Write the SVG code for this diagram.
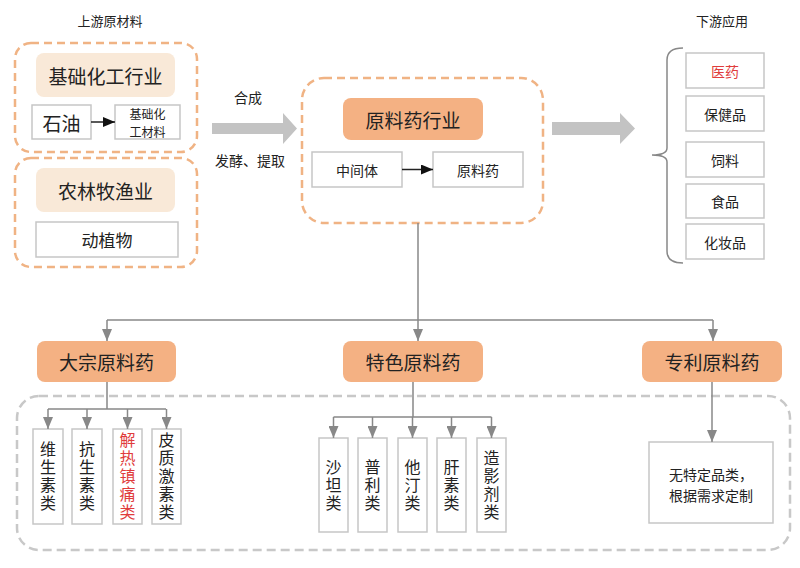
<svg xmlns="http://www.w3.org/2000/svg" width="800" height="568" viewBox="0 0 800 568">
<style>
text{font-family:"Noto Sans CJK SC","Liberation Sans",sans-serif;fill:#222;text-anchor:middle;dominant-baseline:central}
.v{writing-mode:vertical-rl;font-size:16px;letter-spacing:2px}
.od{fill:none;stroke:#f0b384;stroke-width:2.5;stroke-dasharray:8 5}
.gd{fill:none;stroke:#c8c8c8;stroke-width:2.5;stroke-dasharray:9 5}
.lh{fill:#f9e9d8;stroke:none}
.oh{fill:#f4b183;stroke:none}
.bx{fill:#fff;stroke:#c6c6c6;stroke-width:1.5}
.ln{fill:none;stroke:#888;stroke-width:1.5}
.bk{fill:none;stroke:#222;stroke-width:1.5}
.big{font-size:19px}
.md{font-size:17px}
.sm{font-size:14px}
.xs{font-size:13px}
.xxs{font-size:12px}
.red{fill:#e03c3c}
</style>
<defs>
<marker id="ga" viewBox="0 0 12 10" refX="12" refY="5" markerWidth="12" markerHeight="10" markerUnits="userSpaceOnUse" orient="auto"><path d="M0,0L12,5L0,10Z" fill="#888"/></marker>
<marker id="ba" viewBox="0 0 12 10" refX="12" refY="5" markerWidth="12" markerHeight="10" markerUnits="userSpaceOnUse" orient="auto"><path d="M0,0L12,5L0,10Z" fill="#111"/></marker>
</defs>

<text class="xs" x="110" y="20">上游原材料</text>
<text class="xs" x="722" y="20">下游应用</text>

<g id="upstream-chem">
<rect class="od" x="15" y="43" width="182" height="109" rx="16"/>
<rect class="lh" x="36" y="53" width="139" height="44" rx="8"/>
<text class="big" x="105.5" y="75">基础化工行业</text>
<rect class="bx" x="32" y="105" width="59" height="34"/>
<text class="big" x="61.5" y="122">石油</text>
<rect class="bx" x="115" y="105" width="65" height="34"/>
<text class="xxs"><tspan x="147.5" y="113">基础化</tspan><tspan x="147.5" y="131">工材料</tspan></text>
</g>

<g id="upstream-agri">
<rect class="od" x="15" y="158" width="182" height="109" rx="16"/>
<rect class="lh" x="36" y="168" width="139" height="44" rx="8"/>
<text class="big" x="105.5" y="190">农林牧渔业</text>
<rect class="bx" x="36" y="222" width="142" height="35"/>
<text class="md" x="107" y="239.5">动植物</text>
</g>

<g id="api-industry">
<rect class="od" x="302" y="78" width="241" height="145" rx="22"/>
<rect class="oh" x="343" y="98" width="140" height="42" rx="8"/>
<text class="big" x="413" y="119">原料药行业</text>
<rect class="bx" x="312" y="152" width="90" height="35"/>
<text class="sm" x="357" y="169.5">中间体</text>
<rect class="bx" x="433" y="152" width="90" height="35"/>
<text class="sm" x="478" y="169.5">原料药</text>
</g>

<g id="flow-labels">
<text class="sm" x="248" y="97">合成</text>
<text class="sm" x="250" y="160">发酵、提取</text>
</g>

<g id="downstream">
<path class="ln" d="M683,48 Q667,48 667,60 L667,148 Q667,155 652,155 Q667,155 667,162 L667,251 Q667,263 683,263" stroke="#666"/>
<rect class="bx" x="686" y="53" width="78" height="35"/>
<text class="sm red" x="725" y="70.5">医药</text>
<rect class="bx" x="686" y="96" width="78" height="35"/>
<text class="sm" x="725" y="113.5">保健品</text>
<rect class="bx" x="686" y="142" width="78" height="35"/>
<text class="sm" x="725" y="159.5">饲料</text>
<rect class="bx" x="686" y="184" width="78" height="34"/>
<text class="sm" x="725" y="201">食品</text>
<rect class="bx" x="686" y="224" width="78" height="35"/>
<text class="sm" x="725" y="241.5">化妆品</text>
</g>

<g id="bulk-api">
<rect class="oh" x="37" y="341" width="139" height="41" rx="8"/>
<text class="big" x="106.5" y="361.5">大宗原料药</text>
</g>
<g id="special-api">
<rect class="oh" x="343" y="341" width="140" height="41" rx="8"/>
<text class="big" x="413" y="361.5">特色原料药</text>
</g>
<g id="patent-api">
<rect class="oh" x="642" y="341" width="140" height="41" rx="8"/>
<text class="big" x="712" y="361.5">专利原料药</text>
</g>

<g id="bottom-frame">
<rect class="gd" x="17" y="396" width="773" height="154" rx="22"/>
</g>

<g id="bulk-items">
<rect class="bx" x="33" y="429" width="30" height="95"/>
<text class="v" x="48" y="477">维生素类</text>
<rect class="bx" x="72" y="429" width="30" height="95"/>
<text class="v" x="87" y="477">抗生素类</text>
<rect class="bx" x="113" y="429" width="29" height="95"/>
<text class="v red" x="127.5" y="477">解热镇痛类</text>
<rect class="bx" x="152" y="429" width="29" height="95"/>
<text class="v" x="166.5" y="477">皮质激素类</text>
</g>

<g id="special-items">
<rect class="bx" x="319" y="438" width="29" height="94"/>
<text class="v" x="333.5" y="486">沙坦类</text>
<rect class="bx" x="358" y="438" width="29" height="94"/>
<text class="v" x="372.5" y="486">普利类</text>
<rect class="bx" x="398" y="438" width="29" height="94"/>
<text class="v" x="412.5" y="486">他汀类</text>
<rect class="bx" x="437" y="438" width="29" height="94"/>
<text class="v" x="451.5" y="486">肝素类</text>
<rect class="bx" x="477" y="438" width="29" height="94"/>
<text class="v" x="491.5" y="486">造影剂类</text>
</g>

<g id="patent-item">
<rect class="bx" x="649" y="442" width="124" height="81"/>
<text class="sm"><tspan x="711" y="474">无特定品类，</tspan><tspan x="711" y="495">根据需求定制</tspan></text>
</g>

<g id="connectors">
<path d="M212,123H283V113L297,128.5L283,144V134H212Z" fill="#c3c3c3"/>
<path d="M552,122H620V113L635,128.5L620,144V135H552Z" fill="#c3c3c3"/>
<line class="bk" x1="91" y1="122" x2="115" y2="122" marker-end="url(#ba)"/>
<line class="bk" x1="402" y1="169.5" x2="433" y2="169.5" marker-end="url(#ba)"/>
<path class="ln" d="M418,223V320"/>
<path class="ln" d="M107,320H713"/>
<line class="ln" x1="107" y1="320" x2="107" y2="341" marker-end="url(#ga)"/>
<line class="ln" x1="418" y1="320" x2="418" y2="341" marker-end="url(#ga)"/>
<line class="ln" x1="713" y1="320" x2="713" y2="341" marker-end="url(#ga)"/>
<path class="ln" d="M107,382V409M48,409H166"/>
<line class="ln" x1="48" y1="409" x2="48" y2="429" marker-end="url(#ga)"/>
<line class="ln" x1="87" y1="409" x2="87" y2="429" marker-end="url(#ga)"/>
<line class="ln" x1="127.5" y1="409" x2="127.5" y2="429" marker-end="url(#ga)"/>
<line class="ln" x1="166.5" y1="409" x2="166.5" y2="429" marker-end="url(#ga)"/>
<path class="ln" d="M413,382V417M333.5,417H491.5"/>
<line class="ln" x1="333.5" y1="417" x2="333.5" y2="438" marker-end="url(#ga)"/>
<line class="ln" x1="372.5" y1="417" x2="372.5" y2="438" marker-end="url(#ga)"/>
<line class="ln" x1="412.5" y1="417" x2="412.5" y2="438" marker-end="url(#ga)"/>
<line class="ln" x1="451.5" y1="417" x2="451.5" y2="438" marker-end="url(#ga)"/>
<line class="ln" x1="491.5" y1="417" x2="491.5" y2="438" marker-end="url(#ga)"/>
<line class="ln" x1="712" y1="382" x2="712" y2="442" marker-end="url(#ga)"/>
</g>
</svg>
